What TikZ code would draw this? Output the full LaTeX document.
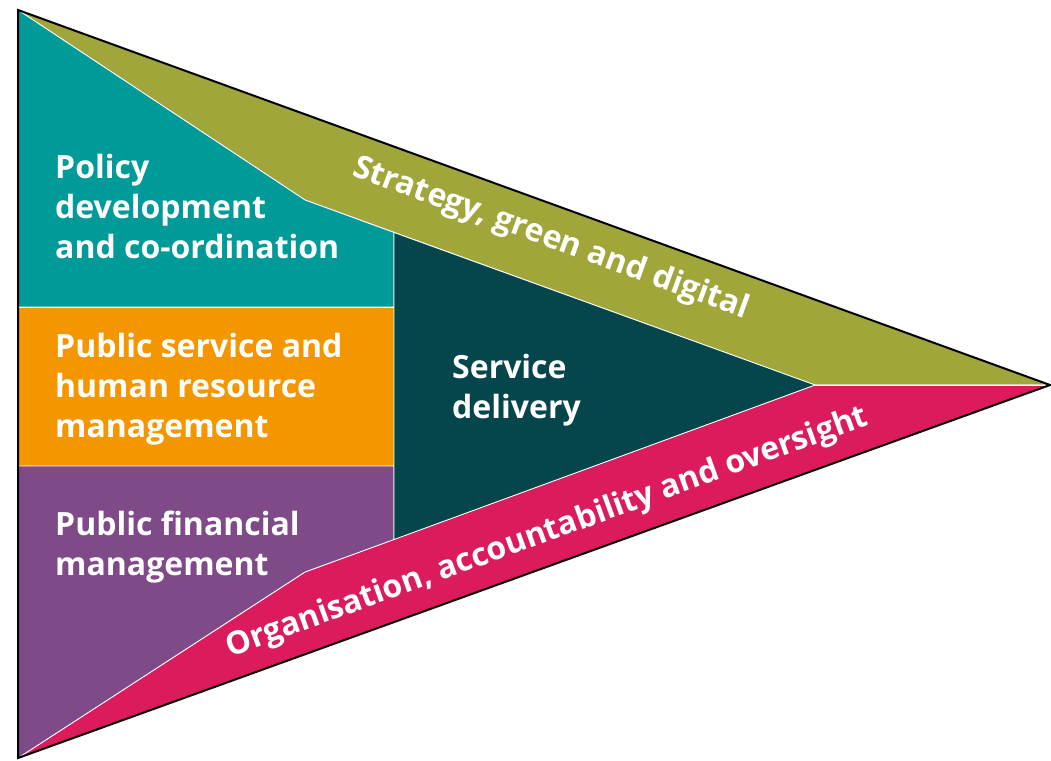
\documentclass[tikz,border=0pt]{standalone}
\usepackage{fontspec}
\setmainfont{Open Sans}
\usepackage{tikz}
\usepackage{xcolor}

\definecolor{policyteal}{RGB}{0,154,152}
\definecolor{stratolive}{RGB}{160,166,58}
\definecolor{servdark}{RGB}{4,70,75}
\definecolor{hrorange}{RGB}{243,150,0}
\definecolor{pfmpurple}{RGB}{127,74,136}
\definecolor{orgmagenta}{RGB}{219,27,92}

\begin{document}
\begin{tikzpicture}[x=1pt,y=-1pt,
		region/.style={draw=white,line width=0.8pt,line join=round},
		boxtext/.style={text=white,font=\bfseries\fontsize{32}{40}\selectfont,inner sep=0pt,align=left,anchor=base west},
		bandtext/.style={text=white,font=\bfseries\fontsize{32}{40}\selectfont,inner sep=0pt,anchor=base}]
			\useasboundingbox (0,0) rectangle (1051,760);
			\begin{scope}
				\coordinate (tl) at (18,10);
				\coordinate (bl) at (18,758);
				\coordinate (tip) at (1050,385);
				\coordinate (a) at (305,200);
				\coordinate (b) at (394,232.5);
				\coordinate (c) at (815,385);
				\coordinate (d) at (394,539.5);
				\coordinate (e) at (305,572);
				\coordinate (f) at (394,307);
				\coordinate (g) at (18,307);
				\coordinate (h) at (394,466);
				\coordinate (i) at (18,466);
				\fill[region,fill=stratolive] (tl) -- (tip) -- (c) -- (a) -- cycle;
				\fill[region,fill=orgmagenta] (bl) -- (e) -- (c) -- (tip) -- cycle;
				\filldraw[region,fill=policyteal] (tl) -- (a) -- (b) -- (f) -- (g) -- cycle;
				\filldraw[region,fill=hrorange] (g) -- (f) -- (h) -- (i) -- cycle;
				\filldraw[region,fill=pfmpurple] (i) -- (h) -- (d) -- (e) -- (bl) -- cycle;
				\filldraw[region,fill=servdark] (b) -- (c) -- (d) -- cycle;
				\draw[region] (c) -- (tip);
				\draw[line width=2pt,line join=miter] (tl) -- (tip) -- (bl) -- cycle;
			\end{scope}
			% multi-line nodes: base is the last line
			\node[boxtext] (policy) at (55,258) {Policy\\development\\and co-ordination};
			\node[boxtext] (hrm) at (55,437) {Public service and\\human resource\\management};
			\node[boxtext] (pfm) at (55,575) {Public financial\\management};
			\node[boxtext] (service) at (452,418) {Service\\delivery};
			\node[bandtext,rotate=-20] (strategy) at (548,247) {Strategy, green and digital};
			\node[bandtext,rotate=20] (oversight) at (550,541) {Organisation, accountability and oversight};
		\end{tikzpicture}
\end{document}
